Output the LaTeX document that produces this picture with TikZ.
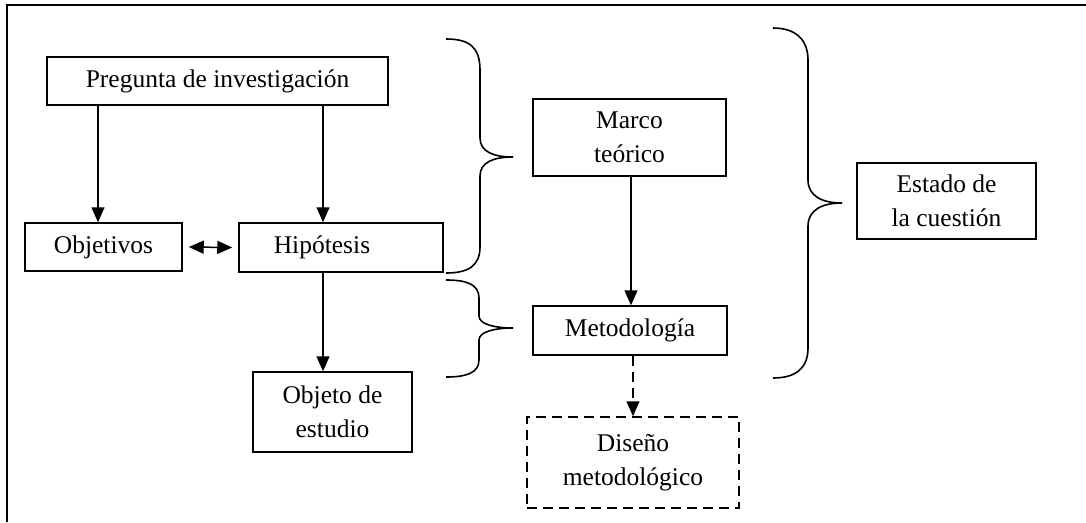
\documentclass[tikz,border=0pt]{standalone}
\usepackage{fontspec}
\setmainfont{Liberation Serif}
\usetikzlibrary{arrows.meta}
\begin{document}
\begin{tikzpicture}[x=1pt,y=-1pt,
  box/.style={draw, line width=1.5pt, rectangle, inner sep=0pt, align=center,
    font=\fontsize{25.5}{34}\selectfont},
  dbox/.style={box, dashed, dash pattern=on 10pt off 6pt},
  arr/.style={line width=1.5pt, -{Triangle[length=15pt,width=13pt]}},
  darr/.style={arr, dash pattern=on 10pt off 6pt},
  brace/.style={line width=1.6pt}]
\useasboundingbox (0,0) rectangle (1086,522);
\draw[line width=2pt] (7,522) -- (7,5) -- (1086,5);

\node[box, minimum width=341pt, minimum height=48pt] (preg) at (217.5,81) {Pregunta de investigación};
\node[box, minimum width=157pt, minimum height=48pt] (obj) at (103.5,247) {Objetivos};
\node[box, minimum width=204pt, minimum height=49pt] (hip) at (341,247.5) {\hspace*{-38pt}Hipótesis};
\node[box, minimum width=159pt, minimum height=80pt] (objeto) at (332.5,412) {Objeto de\\estudio};
\node[box, minimum width=193pt, minimum height=77pt] (marco) at (629.5,137.5) {Marco\\teórico};
\node[box, minimum width=194pt, minimum height=49pt] (met) at (630,330.5) {Metodología};
\node[dbox, minimum width=212pt, minimum height=91pt] (dis) at (633,462.5) {Diseño\\metodológico};
\node[box, minimum width=179pt, minimum height=76pt] (est) at (946.5,201) {Estado de\\la cuestión};

\draw[arr] (preg.south -| obj.north) ++(-5.5,0) coordinate (p1) -- (p1 |- obj.north);
\draw[arr] (323,105) coordinate (p2) -- (p2 |- hip.north);
\draw[arr] (hip.south -| p2) coordinate (p3) -- (p3 |- objeto.north);
\draw[line width=1.5pt, {Triangle[length=15pt,width=13pt]}-{Triangle[length=15pt,width=13pt]}] ([xshift=6pt]obj.east) -- ([xshift=-6pt]hip.west);
\draw[arr] (marco.south -| 631,0) coordinate (p4) -- (p4 |- met.north);
\draw[darr] (met.south -| 633,0) coordinate (p5) -- (p5 |- dis.north);

% braces
\draw[brace] (446,39) .. controls (468,39) and (480,46) .. (480,70) -- (480,138)
  .. controls (480,152) and (494,157) .. (513,157)
  .. controls (494,157) and (480,162) .. (480,176) -- (480,247)
  .. controls (480,266) and (468,273) .. (446,273);
\draw[brace] (446,280) .. controls (466,280) and (479,284) .. (479,298) -- (479,316)
  .. controls (479,324) and (494,328) .. (513,328)
  .. controls (494,328) and (479,332) .. (479,340) -- (479,360)
  .. controls (479,373) and (466,377) .. (446,377);
\draw[brace] (773,28) .. controls (796,28) and (808,40) .. (808,60) -- (808,180)
  .. controls (808,196) and (822,203) .. (842,203)
  .. controls (822,203) and (808,210) .. (808,226) -- (808,348)
  .. controls (808,368) and (796,378) .. (773,378);
\end{tikzpicture}
\end{document}
